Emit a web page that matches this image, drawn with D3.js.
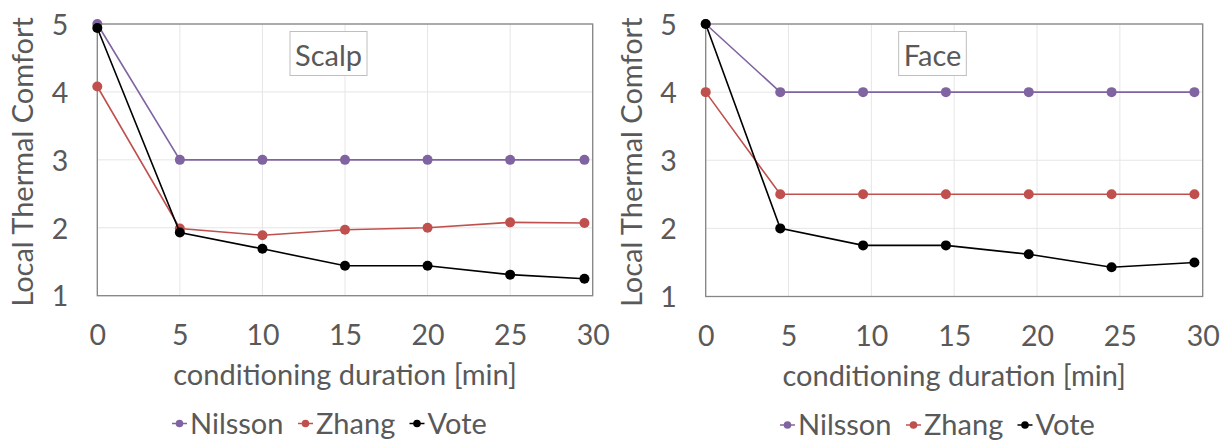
<!DOCTYPE html>
<html>
<head>
<meta charset="utf-8">
<script src="https://cdn.jsdelivr.net/npm/d3@7"></script>
<style>
  body { margin: 0; background: #fff; }
  svg text { font-family: Lato, "Open Sans", sans-serif; fill: #595959; }
</style>
</head>
<body>
<div id="chart"></div>
<script>
// values
const seriesNames = ["Nilsson", "Zhang", "Vote"];
const seriesColors = ["#8064a2", "#c0504d", "#000000"];

const scalpMinutes = [0, 5, 10, 15, 20, 25, 29.5];
const scalpNilsson = [5, 3, 3, 3, 3, 3, 3];
const scalpZhang = [4.08, 1.99, 1.89, 1.97, 2.0, 2.08, 2.07];
const scalpVote = [4.94, 1.93, 1.69, 1.44, 1.44, 1.31, 1.25];

const faceMinutes = [0, 4.5, 9.5, 14.5, 19.5, 24.5, 29.5];
const faceNilsson = [5, 4, 4, 4, 4, 4, 4];
const faceZhang = [4, 2.5, 2.5, 2.5, 2.5, 2.5, 2.5];
const faceVote = [5, 2, 1.75, 1.75, 1.62, 1.43, 1.5];

const xTicks = [0, 5, 10, 15, 20, 25, 30];
const yTicks = [1, 2, 3, 4, 5];

const W = 1228, H = 442;
const svg = d3.select("#chart").append("svg")
  .attr("width", W).attr("height", H);

function drawPanel(cfg) {
  const g = svg.append("g");
  const x = d3.scaleLinear().domain([0, 30]).range([cfg.left, cfg.right]);
  const y = d3.scaleLinear().domain([1, 5]).range([cfg.bottom, cfg.top]);

  // gridlines
  g.append("g").selectAll("line").data(xTicks).join("line")
    .attr("x1", d => x(d)).attr("x2", d => x(d))
    .attr("y1", cfg.top).attr("y2", cfg.bottom)
    .attr("stroke", "#e6e6e6").attr("stroke-width", 1);
  g.append("g").selectAll("line").data(yTicks).join("line")
    .attr("x1", cfg.left).attr("x2", cfg.right)
    .attr("y1", d => y(d)).attr("y2", d => y(d))
    .attr("stroke", "#e6e6e6").attr("stroke-width", 1);

  // plot border
  g.append("rect")
    .attr("x", cfg.left).attr("y", cfg.top)
    .attr("width", cfg.right - cfg.left).attr("height", cfg.bottom - cfg.top)
    .attr("fill", "none").attr("stroke", "#858585").attr("stroke-width", 1.3);

  // axes (labels only, Excel style)
  const xAxis = g.append("g")
    .attr("transform", `translate(0,${cfg.bottom})`)
    .call(d3.axisBottom(x).tickValues(xTicks).tickFormat(d3.format("d")).tickSize(0));
  xAxis.attr("font-family", null).attr("font-size", null);
  xAxis.select(".domain").remove();
  xAxis.selectAll("text")
    .attr("y", 0).attr("dy", 49.5)
    .attr("font-size", 28.5).attr("fill", "#595959");

  const yAxis = g.append("g")
    .attr("transform", `translate(${cfg.left},0)`)
    .call(d3.axisLeft(y).tickValues(yTicks).tickFormat(d3.format("d")).tickSize(0));
  yAxis.attr("font-family", null).attr("font-size", null);
  yAxis.select(".domain").remove();
  yAxis.selectAll("text")
    .attr("x", -29).attr("dy", "0.36em")
    .attr("font-size", 28.5).attr("fill", "#595959");

  // axis titles
  g.append("text")
    .attr("x", (cfg.left + cfg.right) / 2).attr("y", cfg.bottom + 89.5)
    .attr("text-anchor", "middle").attr("font-size", 29)
    .text("conditioning duration [min]");
  g.append("text")
    .attr("transform", `translate(${cfg.left - 64},${(cfg.top + cfg.bottom) / 2 + 2}) rotate(-90)`)
    .attr("text-anchor", "middle").attr("font-size", 29)
    .text("Local Thermal Comfort");

  // title box
  const tb = g.append("g");
  const tt = tb.append("text")
    .attr("x", cfg.titleX).attr("y", 66)
    .attr("text-anchor", "middle").attr("font-size", 29)
    .text(cfg.title);
  const bb = tt.node().getBBox();
  tb.insert("rect", "text")
    .attr("x", bb.x - 5).attr("y", 31.5)
    .attr("width", bb.width + 10).attr("height", 44)
    .attr("fill", "#fff").attr("stroke", "#bfbfbf").attr("stroke-width", 1);

  // series
  const line = d3.line().x(d => x(d.m)).y(d => y(d.v));
  cfg.series.forEach((vals, i) => {
    const pts = vals.map((v, j) => ({ m: cfg.minutes[j], v }));
    g.append("path").datum(pts)
      .attr("d", line).attr("fill", "none")
      .attr("stroke", seriesColors[i]).attr("stroke-width", 1.6);
    g.append("g").selectAll("circle").data(pts).join("circle")
      .attr("cx", d => x(d.m)).attr("cy", d => y(d.v))
      .attr("r", 5).attr("fill", seriesColors[i]);
  });

  // legend
  const lg = g.append("g").attr("transform", `translate(0,${cfg.legendY})`);
  const item = lg.selectAll("g").data(seriesNames).join("g")
    .attr("transform", (d, i) => `translate(${cfg.legendX[i]},0)`);
  item.append("line")
    .attr("x1", 0).attr("x2", 15).attr("y1", -10).attr("y2", -10)
    .attr("stroke", (d, i) => seriesColors[i]).attr("stroke-width", 1.5);
  item.append("circle")
    .attr("cx", 7.5).attr("cy", -10).attr("r", 3.8)
    .attr("fill", (d, i) => seriesColors[i]);
  item.append("text")
    .attr("x", 18).attr("y", 0).attr("font-size", 29)
    .text(d => d);
}

drawPanel({
  title: "Scalp", titleX: 328.5,
  left: 97.3, right: 592.7, top: 24, bottom: 295.7,
  minutes: scalpMinutes,
  series: [scalpNilsson, scalpZhang, scalpVote],
  legendY: 433.5, legendX: [172, 298, 409.5]
});

drawPanel({
  title: "Face", titleX: 932.5,
  left: 705.7, right: 1202.7, top: 24, bottom: 296.5,
  minutes: faceMinutes,
  series: [faceNilsson, faceZhang, faceVote],
  legendY: 435, legendX: [780, 906, 1017.5]
});
</script>
</body>
</html>
